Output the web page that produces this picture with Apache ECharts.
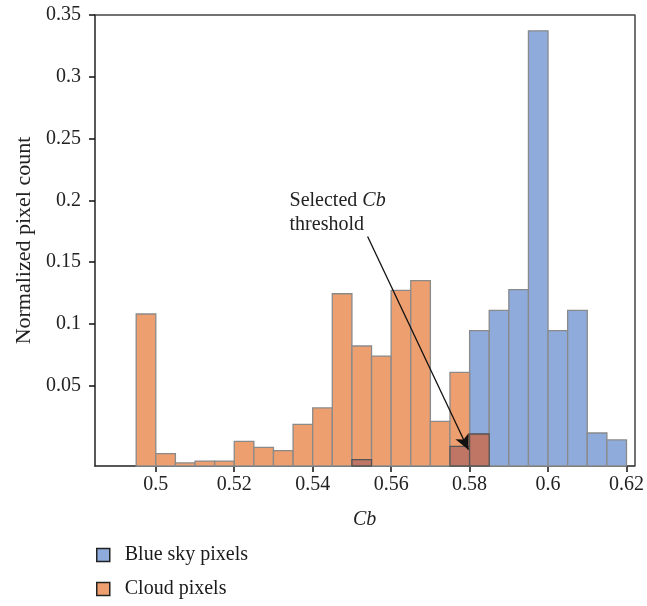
<!DOCTYPE html>
<html>
<head>
<meta charset="utf-8">
<script src="https://cdn.jsdelivr.net/npm/echarts@6/dist/echarts.min.js"></script>
<style>html,body{margin:0;padding:0;background:#fff}#c{width:647px;height:606px}</style>
</head>
<body>
<div id="c"></div>
<script>
// Bin left edges (Cb)
const binStarts = [0.495,0.5,0.505,0.51,0.515,0.52,0.525,0.53,0.535,0.54,0.545,0.55,0.555,0.56,0.565,0.57,0.575,0.58,0.585,0.59,0.595,0.6,0.605,0.61,0.615];
const binWidth = 0.005;
// Normalized pixel count, cloud pixels
const cloudValues = [0.108,-0.005,-0.0125,-0.011,-0.011,0.005,0.0,-0.0026,0.0187,0.032,0.1244,0.0821,0.074,0.1271,0.135,0.0211,0.0608,0.0109,null,null,null,null,null,null,null];
// Normalized pixel count, blue sky pixels
const skyValues = [null,null,null,null,null,null,null,null,null,null,null,-0.0099,null,null,null,null,0.0009,0.0945,0.1109,0.1277,0.3372,0.0945,0.1109,0.0117,0.0061];
const xTicks = [0.5,0.52,0.54,0.56,0.58,0.6,0.62];
const yTicks = [0.05,0.1,0.15,0.2,0.25,0.3,0.35];
const yMin = -0.015, yMax = 0.35, xMin = 0.4845, xMax = 0.622;
// annotation: text anchor and arrow (data coords)
const annoText = [0.5341, 0.19];
const arrowFrom = [0.5540, 0.1708];
const arrowTo = [0.5797, -0.0018];

const FONT = '"Liberation Serif", "DejaVu Serif", serif';
const toData = vals => binStarts.map((b,i)=>vals[i]==null?null:[b, vals[i]]).filter(d=>d);
const overlapValues = binStarts.map((b,i)=> (cloudValues[i]!=null && skyValues[i]!=null) ? Math.min(cloudValues[i], skyValues[i]) : null);

function makeRender(stroke, lw){
  return function(params, api){
    const x0 = api.value(0), v = api.value(1);
    const p0 = api.coord([x0, v]);
    const p1 = api.coord([x0 + binWidth, yMin]);
    return {type:'rect', shape:{x:p0[0], y:p0[1], width:p1[0]-p0[0], height:p1[1]-p0[1]},
      style:{fill: api.visual('color'), stroke: stroke, lineWidth: lw}};
  };
}

const chart = echarts.init(document.getElementById('c'), null, {renderer:'canvas'});
chart.setOption({
  animation:false,
  textStyle:{fontFamily:FONT},
  grid:{left:95, right:12, top:15, bottom:140, containLabel:false},
  xAxis:[{type:'value', min:xMin, max:xMax,
    axisLine:{show:true, onZero:false, lineStyle:{color:'#222', width:1.5}},
    axisTick:{show:true, customValues:xTicks, length:6, lineStyle:{color:'#111', width:1.5}},
    axisLabel:{customValues:xTicks, color:'#222', fontSize:20, fontFamily:FONT, margin:9},
    splitLine:{show:false},
    name:'Cb', nameLocation:'middle', nameGap:44,
    nameTextStyle:{fontStyle:'italic', fontSize:20, color:'#222', fontFamily:FONT}},
    {type:'value', min:xMin, max:xMax, position:'top',
    axisLine:{show:true, onZero:false, lineStyle:{color:'#444', width:1.5}},
    axisTick:{show:false}, axisLabel:{show:false}, splitLine:{show:false}}],
  yAxis:[{type:'value', min:yMin, max:yMax,
    axisLine:{show:true, onZero:false, lineStyle:{color:'#222', width:1.5}},
    axisTick:{show:true, customValues:yTicks, length:6, lineStyle:{color:'#111', width:1.5}},
    axisLabel:{customValues:yTicks, color:'#222', fontSize:20, fontFamily:FONT, margin:14},
    splitLine:{show:false},
    name:'Normalized pixel count', nameLocation:'middle', nameGap:60,
    nameTextStyle:{fontSize:22, color:'#222', fontFamily:FONT}},
    {type:'value', min:yMin, max:yMax, position:'right',
    axisLine:{show:true, onZero:false, lineStyle:{color:'#444', width:1.5}},
    axisTick:{show:false}, axisLabel:{show:false}, splitLine:{show:false}}],
  legend:{orient:'vertical', left:96, top:545, padding:0, itemWidth:13, itemHeight:13, itemGap:14,
    icon:'rect',
    data:['Blue sky pixels','Cloud pixels'],
    itemStyle:{borderColor:'#222', borderWidth:1.5},
    textStyle:{fontSize:20, color:'#1a1a1a', fontFamily:FONT, padding:[0,0,0,10]}},
  series:[
    {type:'custom', name:'Blue sky pixels', color:'#8eabdc', renderItem:makeRender('#8a8a8a',1.3),
      encode:{x:0,y:0}, data:toData(skyValues), z:2},
    {type:'custom', name:'Cloud pixels', color:'#ed9f6f', renderItem:makeRender('#8a8a8a',1.3),
      encode:{x:0,y:0}, data:toData(cloudValues), z:3,
      markLine:{silent:true, symbol:['none','arrow'], symbolSize:[11,15], animation:false,
        lineStyle:{color:'#111', width:1.3, type:'solid'}, label:{show:false},
        data:[[{coord:arrowFrom},{coord:arrowTo}]]},
      markPoint:{silent:true, symbol:'circle', symbolSize:0,
        data:[{coord:annoText}],
        label:{show:true, position:'right', distance:0, align:'left', lineHeight:24,
          formatter:'{n|Selected }{i|Cb}\n{n|threshold}',
          rich:{n:{fontSize:20, color:'#222', fontFamily:FONT, lineHeight:24},
                i:{fontSize:20, color:'#222', fontFamily:FONT, fontStyle:'italic', lineHeight:24}}}}},
    {type:'custom', name:'overlap', color:'#bf7664', renderItem:makeRender('#555',1.3),
      encode:{x:0,y:0}, data:toData(overlapValues), z:4}
  ]
});
</script>
</body>
</html>
